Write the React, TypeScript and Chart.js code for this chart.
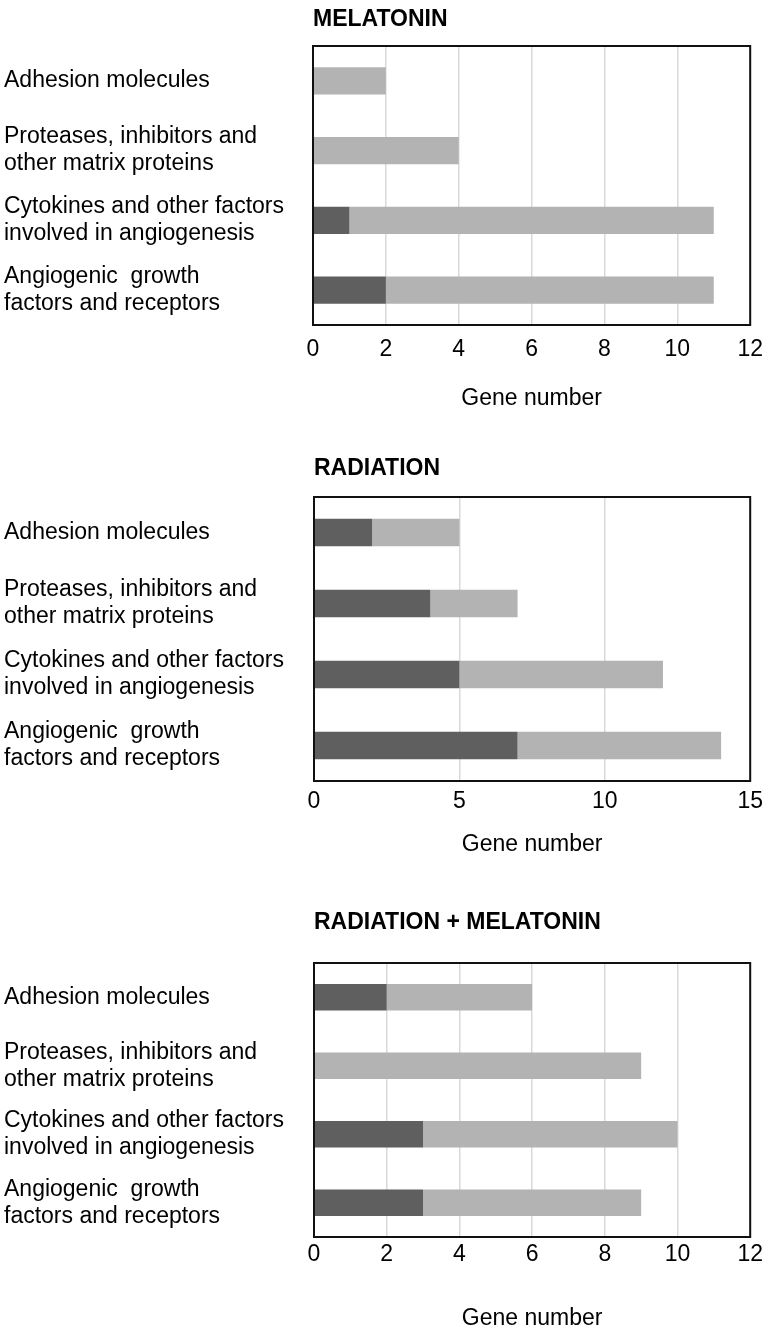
import React, { useEffect, useRef } from 'react';
import { Chart, registerables } from 'chart.js';

Chart.register(...registerables);
Chart.defaults.font.family = "'Liberation Sans', Arial, sans-serif";

// ---- Data ----
const categories: string[][] = [
  ['Adhesion molecules'],
  ['Proteases, inhibitors and', 'other matrix proteins'],
  ['Cytokines and other factors', 'involved in angiogenesis'],
  ['Angiogenic  growth', 'factors and receptors'],
];
const panelTitles = ['MELATONIN', 'RADIATION', 'RADIATION + MELATONIN'];
const axisTitle = 'Gene number';

const melatoninDark = [0, 0, 1, 2];
const melatoninLight = [2, 4, 10, 9];
const radiationDark = [2, 4, 5, 7];
const radiationLight = [3, 3, 7, 7];
const comboDark = [2, 0, 3, 3];
const comboLight = [4, 9, 7, 6];

const xMaxes = [12, 15, 12];
const xSteps = [2, 5, 2];

const darkSeries = [melatoninDark, radiationDark, comboDark];
const lightSeries = [melatoninLight, radiationLight, comboLight];

// ---- Layout / style ----
const DARK = '#5f5f5f';
const LIGHT = '#b3b3b3';
const FS = 23;
const panelLayouts = [
  { top: 0, height: 416, plotLeft: 313, titlePadBottom: 12.2, tickLen: 10.5, axisPadTop: 21.3, axisPadBottom: 4 },
  { top: 449, height: 413, plotLeft: 314, titlePadBottom: 14.2, tickLen: 6.5, axisPadTop: 15.3, axisPadBottom: 4 },
  { top: 903, height: 429, plotLeft: 314, titlePadBottom: 26.2, tickLen: 3.5, axisPadTop: 36.3, axisPadBottom: 0 },
];

const framePlugin = {
  id: 'frameBox',
  afterDatasetsDraw(chart: any) {
    const { ctx, chartArea: a } = chart;
    ctx.save();
    ctx.strokeStyle = '#111';
    ctx.lineWidth = 2;
    ctx.strokeRect(a.left, a.top, a.right - a.left, a.bottom - a.top);
    ctx.restore();
  },
};

function Panel({ index }: { index: number }) {
  const ref = useRef<HTMLCanvasElement | null>(null);
  const lay = panelLayouts[index];
  useEffect(() => {
    if (!ref.current) return;
    const chart = new Chart(ref.current, {
      type: 'bar',
      data: {
        labels: categories,
        datasets: [
          { data: darkSeries[index], backgroundColor: DARK, borderWidth: 0 },
          { data: lightSeries[index], backgroundColor: LIGHT, borderWidth: 0 },
        ],
      },
      options: {
        indexAxis: 'y',
        responsive: false,
        animation: false,
        layout: { padding: { left: 4, right: 0, top: 0, bottom: 0 } },
        datasets: { bar: { barPercentage: 0.39, categoryPercentage: 1 } },
        plugins: {
          legend: { display: false },
          tooltip: { enabled: false },
          title: {
            display: true,
            text: panelTitles[index],
            align: 'start',
            fullSize: false,
            color: '#000',
            font: { size: FS, weight: 'bold', lineHeight: 1.2 },
            padding: { top: 6.2, bottom: lay.titlePadBottom },
          },
        },
        scales: {
          x: {
            stacked: true,
            min: 0,
            max: xMaxes[index],
            ticks: {
              stepSize: xSteps[index],
              color: '#000',
              padding: 0,
              font: { size: FS, lineHeight: 1.2 },
            },
            grid: {
              color: '#d9d9d9',
              lineWidth: 1.5,
              drawTicks: true,
              tickLength: lay.tickLen,
              tickColor: 'rgba(0,0,0,0)',
            },
            border: { display: false },
            title: {
              display: true,
              text: axisTitle,
              color: '#000',
              font: { size: FS, lineHeight: 1.2 },
              padding: { top: lay.axisPadTop, bottom: lay.axisPadBottom },
            },
          },
          y: {
            stacked: true,
            ticks: {
              crossAlign: 'far',
              color: '#000',
              font: { size: FS, lineHeight: 27 / FS },
            },
            grid: { display: false },
            border: { display: false },
            afterFit: (s: any) => {
              s.width = lay.plotLeft - 4;
            },
          },
        },
      } as any,
      plugins: [framePlugin],
    });
    return () => chart.destroy();
  }, [index]);
  return (
    <canvas
      ref={ref}
      width={763}
      height={lay.height}
      style={{ position: 'absolute', left: 0, top: lay.top, display: 'block' }}
    />
  );
}

export default function App() {
  useEffect(() => {
    document.body.style.margin = '0';
    document.documentElement.style.overflow = 'hidden';
  }, []);
  return (
    <div style={{ position: 'relative', width: 763, height: 1330, overflow: 'hidden', background: '#fff' }}>
      {panelTitles.map((_, i) => (
        <Panel key={i} index={i} />
      ))}
    </div>
  );
}
